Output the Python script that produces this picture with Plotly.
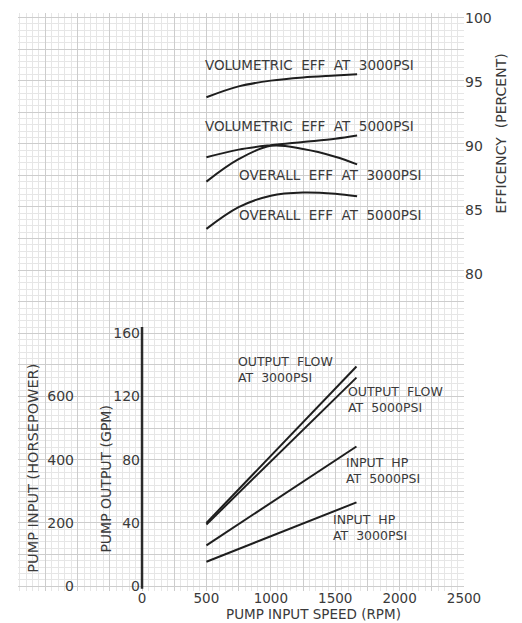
import plotly.graph_objects as go

# ---------------- data ----------------
rpm_eff = [500, 750, 1000, 1250, 1500, 1670]
vol_eff_3000 = [93.8, 94.65, 95.1, 95.35, 95.5, 95.6]
vol_eff_5000 = [89.1, 89.7, 90.05, 90.3, 90.55, 90.8]
ovr_eff_3000 = [87.2, 88.95, 90.0, 89.75, 89.15, 88.55]
ovr_eff_5000 = [83.5, 85.2, 86.1, 86.35, 86.25, 86.05]

rpm_lin = [500, 1665]
flow_3000 = [40, 139]
flow_5000 = [39, 132]
hp_5000 = [129, 442]
hp_3000 = [77, 265]

x_ticks = [0, 500, 1000, 1500, 2000, 2500]
gpm_ticks = [0, 40, 80, 120, 160]
hp_ticks = [0, 200, 400, 600]
eff_ticks = [80, 85, 90, 95, 100]

# ---------------- layout geometry ----------------
W, H = 522, 623
L, R, T, B = 18, 58, 10, 32
X_RANGE = [-963, 2500]
GPM_RANGE = [-3.1, 362.8]
HP_RANGE = [GPM_RANGE[0] * 5, GPM_RANGE[1] * 5]
EFF_RANGE = [55.17, 100.39]

pw, ph = W - L - R, H - T - B


def px(xp):
    return (xp - L) / pw


def py(yp):
    return (H - B - yp) / ph


FONT = "DejaVu Sans"
TXT = "#3a3a3a"
LINE = "#1e1e1e"

fig = go.Figure()

for ys in (vol_eff_3000, vol_eff_5000, ovr_eff_3000, ovr_eff_5000):
    fig.add_trace(go.Scatter(x=rpm_eff, y=ys, mode="lines", yaxis="y2",
                             line=dict(color=LINE, width=2, shape="spline", smoothing=1.0),
                             showlegend=False, hoverinfo="skip"))

for ys in (flow_3000, flow_5000):
    fig.add_trace(go.Scatter(x=rpm_lin, y=ys, mode="lines", yaxis="y",
                             line=dict(color=LINE, width=2), showlegend=False, hoverinfo="skip"))
for ys in (hp_5000, hp_3000):
    fig.add_trace(go.Scatter(x=rpm_lin, y=ys, mode="lines", yaxis="y3",
                             line=dict(color=LINE, width=2), showlegend=False, hoverinfo="skip"))

# grid tick arrays (graph paper)
grid_x = list(range(-750, 2501, 250))
grid_x_text = [str(v) if v in x_ticks else "" for v in grid_x]
grid_x_minor = [v for v in range(-950, 2501, 50) if v % 250 != 0]
grid_y = list(range(0, 361, 20))
grid_y_text = [str(v) if v in gpm_ticks else "" for v in grid_y]
grid_y_minor = [v for v in range(0, 363, 4) if v % 20 != 0]

tickfont = dict(family=FONT, size=14, color=TXT)

fig.update_layout(
    width=W, height=H,
    margin=dict(l=L, r=R, t=T, b=B),
    paper_bgcolor="white", plot_bgcolor="white",
    showlegend=False,
    xaxis=dict(range=X_RANGE, domain=[0, 1], tickmode="array", tickvals=grid_x,
               ticktext=grid_x_text, showgrid=True, gridcolor="#cdcdcd", gridwidth=1,
               zeroline=False, showline=False, ticks="", tickfont=dict(family=FONT, size=13.5, color=TXT),
               ticklabelstandoff=-3,
               minor=dict(tickmode="array", tickvals=grid_x_minor, showgrid=True,
                          gridcolor="#e6e6e6", gridwidth=1, ticks="")),
    yaxis=dict(range=GPM_RANGE, anchor="free", position=px(142), side="left",
               tickmode="array", tickvals=grid_y, ticktext=grid_y_text,
               showgrid=True, gridcolor="#cdcdcd", gridwidth=1, zeroline=False,
               showline=False, ticks="", tickfont=tickfont, ticklabelstandoff=2,
               minor=dict(tickmode="array", tickvals=grid_y_minor, showgrid=True,
                          gridcolor="#e6e6e6", gridwidth=1, ticks="")),
    yaxis2=dict(range=EFF_RANGE, overlaying="y", side="right", anchor="x",
                tickmode="array", tickvals=eff_ticks, showgrid=False, zeroline=False,
                showline=False, ticks="", tickfont=tickfont),
    yaxis3=dict(range=HP_RANGE, overlaying="y", side="left", anchor="free",
                position=px(74), tickmode="array", tickvals=hp_ticks, showgrid=False,
                zeroline=False, showline=False, ticks="", tickfont=tickfont),
)

# main vertical axis line (pump output axis at 0 rpm)
fig.add_shape(type="line", xref="x", yref="y", x0=0, x1=0, y0=GPM_RANGE[0] + 1.5, y1=164,
              line=dict(color="#2a2a2a", width=2.5))

NB = "\u00a0"


def lab(text, left, cy, size=13.5):
    fig.add_annotation(text=text.replace("  ", NB + NB), xref="paper", yref="paper",
                       x=px(left), y=py(cy), xanchor="left", yanchor="middle",
                       showarrow=False, align="left",
                       font=dict(family=FONT, size=size, color=TXT))


lab("VOLUMETRIC  EFF  AT  3000PSI", 203, 62)
lab("VOLUMETRIC  EFF  AT  5000PSI", 203, 124)
lab("OVERALL  EFF  AT  3000PSI", 237, 173)
lab("OVERALL  EFF  AT  5000PSI", 237, 213)
lab("OUTPUT  FLOW<br>AT  3000PSI", 236, 368, 12.5)
lab("OUTPUT  FLOW<br>AT  5000PSI", 346, 399, 12.5)
lab("INPUT  HP<br>AT  5000PSI", 344, 470, 12.5)
lab("INPUT  HP<br>AT  3000PSI", 331, 527, 12.5)


def title(text, cx, cy, angle=0, size=14):
    fig.add_annotation(text=text, xref="paper", yref="paper", x=px(cx), y=py(cy),
                       xanchor="center", yanchor="middle", textangle=angle,
                       showarrow=False, font=dict(family=FONT, size=size, color=TXT))


title("PUMP" + NB + "INPUT" + NB + "SPEED" + NB + "(RPM)", 313, 614, 0, 13.5)
title("PUMP" + NB + "INPUT" + NB + "(HORSEPOWER)", 33, 468, -90, 14.5)
title("PUMP" + NB + "OUTPUT" + NB + "(GPM)", 106, 479, -90)
title("EFFICENCY" + NB + NB + "(PERCENT)", 501, 131, -90)

fig.write_html("out.html")
